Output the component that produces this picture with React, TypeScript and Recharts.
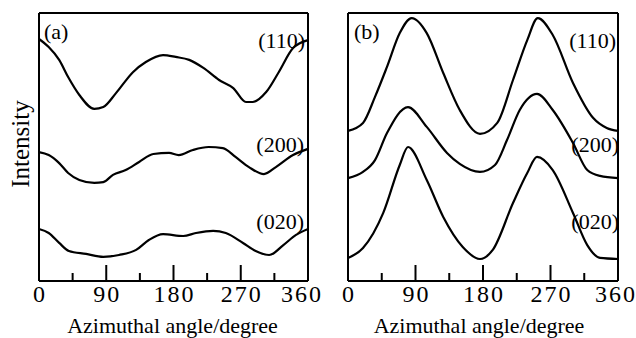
import { Line, LineChart, XAxis, YAxis } from 'recharts'

// panel (a)
const angleA110 = [0, 13, 27, 39, 54, 74, 86, 103, 126, 143, 166, 183, 201, 220, 241, 260, 277, 286, 304, 321, 340, 360]
const intA110 = [90.3, 87.3, 82.5, 76.1, 69.4, 64.2, 64.9, 70.1, 78.0, 81.7, 84.3, 83.6, 82.5, 79.5, 75.0, 72.0, 66.8, 66.8, 70.5, 78.0, 86.9, 89.9]
const angleA200 = [0, 13, 27, 39, 54, 74, 86, 99, 116, 134, 153, 174, 187, 206, 227, 246, 263, 281, 301, 317, 340, 360]
const intA200 = [48.1, 47.0, 44.0, 40.3, 37.7, 36.6, 36.9, 39.6, 41.4, 44.4, 47.4, 47.8, 47.0, 48.9, 50.0, 49.6, 46.3, 42.5, 39.9, 42.5, 47.0, 49.3]
const angleA020 = [0, 13, 27, 40, 63, 86, 107, 130, 147, 166, 193, 210, 233, 250, 273, 290, 308, 327, 344, 360]
const intA020 = [19.4, 17.9, 14.2, 11.2, 10.1, 9.0, 9.7, 11.6, 15.3, 17.5, 16.8, 17.9, 18.7, 17.9, 14.2, 11.2, 9.7, 13.4, 17.2, 19.4]

// panel (b)
const angleB110 = [0, 20, 36, 52, 69, 85, 105, 127, 149, 176, 199, 220, 239, 253, 273, 300, 327, 345, 360]
const intB110 = [56.0, 59.0, 68.7, 79.9, 92.5, 98.1, 92.5, 77.6, 63.8, 54.9, 59.0, 75.0, 89.9, 98.1, 91.8, 73.9, 60.8, 57.1, 56.0]
const angleB200 = [0, 20, 36, 52, 80, 105, 132, 149, 176, 196, 212, 229, 252, 273, 300, 319, 336, 360]
const intB200 = [38.4, 40.7, 45.1, 55.2, 64.9, 57.5, 47.8, 43.7, 40.7, 43.3, 52.6, 63.8, 69.8, 63.8, 51.5, 41.4, 39.2, 38.4]
const angleB020 = [0, 20, 47, 69, 80, 105, 127, 153, 176, 193, 220, 239, 252, 273, 300, 319, 336, 360]
const intB020 = [8.6, 12.3, 25.4, 43.3, 50.0, 37.7, 23.9, 12.7, 8.2, 11.6, 29.1, 40.3, 46.3, 41.4, 25.4, 13.4, 8.6, 8.2]

const angleTicks = [0, 45, 90, 135, 180, 225, 270, 315, 360]

const serif = '"Liberation Serif", "Times New Roman", serif'

const rows = (a: number[], v: number[]) => a.map((angle, i) => ({ angle, v: v[i] }))

const makeTick = (shift360: number) => (props: any) => {
  const { x, y, payload } = props
  const v = payload.value
  const major = v % 90 === 0
  const len = v === 0 || v === 360 ? 0 : major ? 16 : 8
  return (
    <g>
      {len > 0 && <line x1={x} x2={x} y1={y} y2={y - len} stroke="#000" strokeWidth={2} />}
      {major && (
        <text
          x={x + (v === 360 ? shift360 : 0) + 1}
          y={y + 21}
          textAnchor="middle"
          fontFamily={serif}
          fontSize={24}
          letterSpacing={2}
          fill="#000"
        >
          {v}
        </text>
      )}
    </g>
  )
}

const frame = { stroke: '#000', strokeWidth: 2 }

function Panel({ series, width, left, right, shift360, titleDx }: {
  series: { angle: number; v: number }[][]
  width: number
  left: number
  right: number
  shift360: number
  titleDx: number
}) {
  return (
    <LineChart width={width} height={338} margin={{ top: 12, left, right, bottom: 4 }}>
      <XAxis
        xAxisId="b"
        dataKey="angle"
        type="number"
        domain={[0, 360]}
        ticks={angleTicks}
        interval={0}
        height={53}
        tickSize={0}
        tickMargin={0}
        tickLine={false}
        axisLine={frame}
        tick={makeTick(shift360)}
        label={{
          value: 'Azimuthal angle/degree',
          position: 'insideBottom',
          offset: 1,
          dx: titleDx,
          fontFamily: serif,
          fontSize: 22,
          fill: '#000',
        }}
      />
      <XAxis
        xAxisId="t"
        orientation="top"
        type="number"
        domain={[0, 360]}
        height={1}
        tick={false}
        tickLine={false}
        axisLine={frame}
      />
      <YAxis yAxisId="l" domain={[0, 100]} width={1} tick={false} tickLine={false} axisLine={frame} />
      <YAxis
        yAxisId="r"
        orientation="right"
        domain={[0, 100]}
        width={1}
        tick={false}
        tickLine={false}
        axisLine={frame}
      />
      {series.map((d, i) => (
        <Line
          key={i}
          xAxisId="b"
          yAxisId="l"
          data={d}
          dataKey="v"
          type="monotone"
          stroke="#000"
          strokeWidth={2.2}
          dot={false}
          activeDot={false}
          isAnimationActive={false}
        />
      ))}
    </LineChart>
  )
}

export default function App() {
  const labelStyle = { fontFamily: serif, fontSize: 22, fill: '#000' }
  return (
    <div style={{ position: 'absolute', left: 0, top: 0, width: 636, height: 338, background: '#fff' }}>
      <div style={{ position: 'absolute', left: 0, top: 0 }}>
        <Panel
          series={[rows(angleA110, intA110), rows(angleA200, intA200), rows(angleA020, intA020)]}
          width={330}
          left={38}
          right={21}
          shift360={-7}
          titleDx={-1}
        />
      </div>
      <div style={{ position: 'absolute', left: 330, top: 0 }}>
        <Panel
          series={[rows(angleB110, intB110), rows(angleB200, intB200), rows(angleB020, intB020)]}
          width={306}
          left={17}
          right={17}
          shift360={-3}
          titleDx={-4}
        />
      </div>
      <svg width={636} height={338} style={{ position: 'absolute', left: 0, top: 0, pointerEvents: 'none' }}>
        <text x={29} y={144} textAnchor="middle" transform="rotate(-90, 29, 144)" fontFamily={serif} fontSize={25} fill="#000">
          Intensity
        </text>
        <text x={44} y={39} {...labelStyle}>(a)</text>
        <text x={305} y={48} textAnchor="end" {...labelStyle}>(110)</text>
        <text x={304} y={152} textAnchor="end" {...labelStyle}>(200)</text>
        <text x={304} y={229} textAnchor="end" {...labelStyle}>(020)</text>
        <text x={354} y={39} {...labelStyle}>(b)</text>
        <text x={616} y={48} textAnchor="end" {...labelStyle}>(110)</text>
        <text x={619} y={152} textAnchor="end" {...labelStyle}>(200)</text>
        <text x={619} y={229} textAnchor="end" {...labelStyle}>(020)</text>
      </svg>
    </div>
  )
}
